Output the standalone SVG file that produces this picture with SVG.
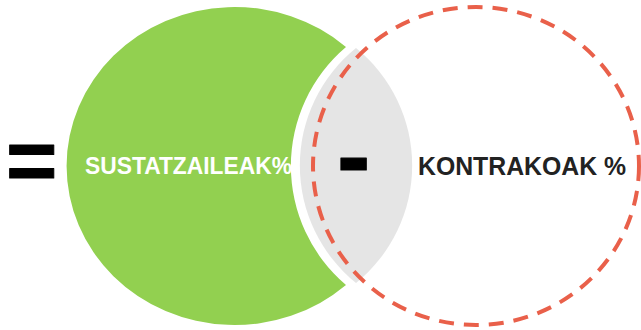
<svg xmlns="http://www.w3.org/2000/svg" width="641" height="330" viewBox="0 0 641 330">
  <style>
    .lbl { font-family: "Liberation Sans", Arial, sans-serif; font-weight: bold; }
    .op { font-family: "Liberation Sans", Arial, sans-serif; font-weight: bold; fill: #000; stroke: #000; stroke-linejoin: round; }
  </style>
  <rect width="641" height="330" fill="#ffffff"/>
  <g id="supporters">
    <path d="M346,47 A168,159 0 1 0 346,285 A156,156 0 0 1 346,47 Z" fill="#92D050"/>
    <text class="lbl" x="85" y="174" font-size="24" fill="#ffffff" textLength="207" lengthAdjust="spacingAndGlyphs">SUSTATZAILEAK%</text>
  </g>
  <g id="overlap">
    <path d="M356,48 A151,151 0 0 0 356,283 A151,151 0 0 0 356,48 Z" fill="#E5E5E5"/>
  </g>
  <g id="opponents">
    <ellipse cx="476" cy="166" rx="163" ry="159" fill="none" stroke="#E9604A" stroke-width="4" stroke-dasharray="15 10"/>
    <text class="lbl" x="418" y="175" font-size="25" fill="#222222" textLength="208" lengthAdjust="spacingAndGlyphs">KONTRAKOAK %</text>
  </g>
  <g id="operators">
    <text class="op" x="6" y="190" font-size="88" stroke-width="1">=</text>
    <text class="op" x="337" y="190" font-size="100" stroke-width="1">-</text>
  </g>
</svg>
